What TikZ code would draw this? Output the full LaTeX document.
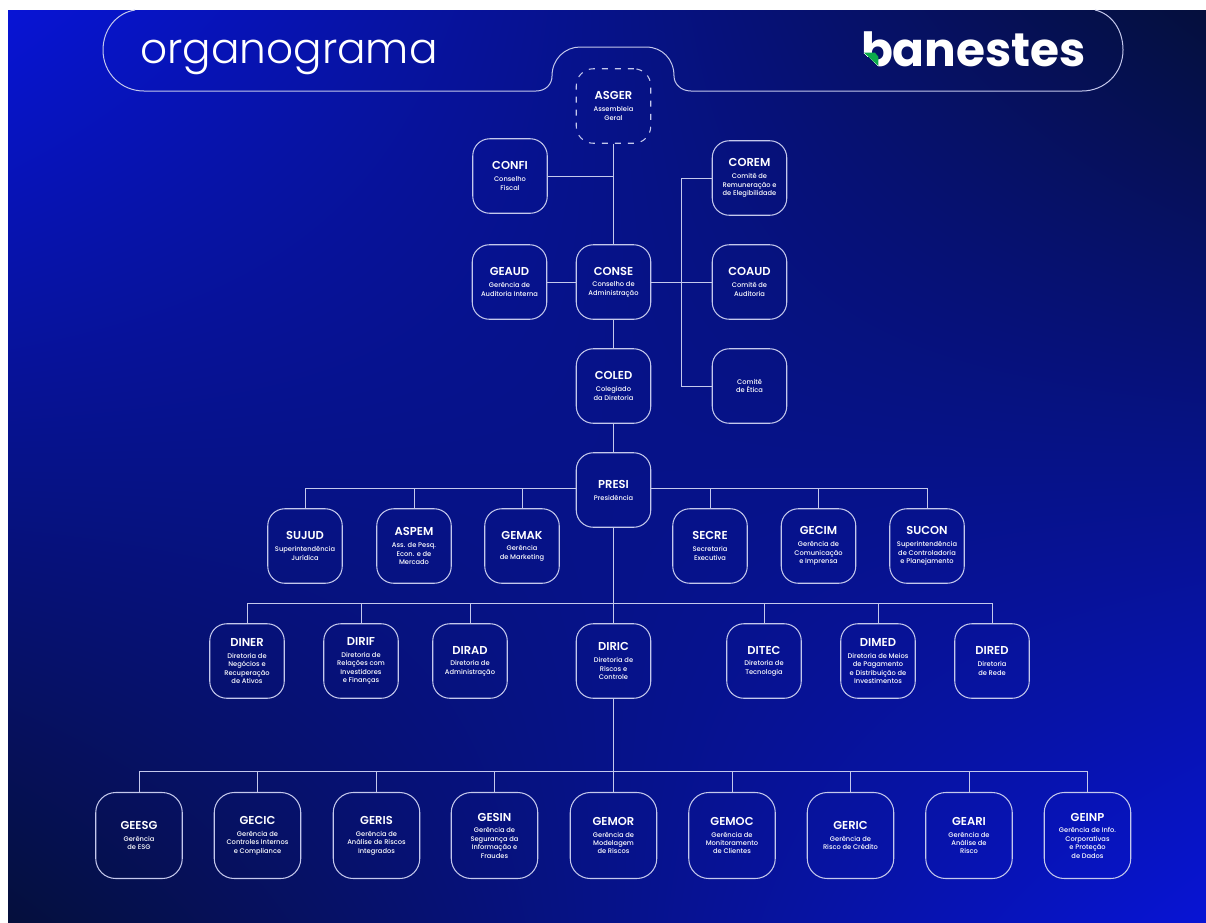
\documentclass[tikz,border=0pt]{standalone}
\usepackage{fontspec}
\setmainfont{Poppins}
\newfontfamily\thinfont{Poppins Light}
\newfontfamily\headfont{Poppins SemiBold}
\newfontfamily\subfont{Poppins Medium}
\definecolor{boxline}{HTML}{C4C8EC}
\definecolor{logogreen}{HTML}{0BAA4B}
\pgfdeclarefunctionalshading{bgmap}{\pgfpointorigin}{\pgfpoint{100bp}{100bp}}{}{
	25 sub 50 div exch 25 sub 50 div exch
	2 copy 1 exch sub mul 3 1 roll exch 1 exch sub mul add
	dup dup 0.6 mul 0.235 add 3 1 roll
	0.02 mul 0.06 add exch 0.01 mul 0.02 add exch 3 -1 roll
}
\newcommand{\orgtext}[2]{{\headfont\fontsize{11.5}{12}\selectfont #1}\\[3.5pt]#2}
\tikzset{
	orgbox/.style={draw=boxline,line width=1.05pt,rounded corners=17pt,minimum width=74.5pt,minimum height=74.5pt,inner sep=0pt,align=center,text=white,font=\subfont\fontsize{6.7}{8.4}\selectfont},
	bigbox/.style={orgbox,rounded corners=20pt,minimum width=86.5pt,minimum height=86pt},
	linkline/.style={draw=boxline,line width=1pt}
}
\begin{document}
\begin{tikzpicture}[x=1pt,y=-1pt]
	\useasboundingbox (0,0) rectangle (1206,922);
	\fill[white] (0,0) rectangle (1206,922);
	\shade[shading=bgmap] (8,10) rectangle (1206,922);
	\draw[linkline] (135,10) .. controls (116,13) and (103,30) .. (103,50) .. controls (103,73) and (121,91) .. (144,91) -- (536,91) .. controls (546,91) and (552,84) .. (552,76) .. controls (552,59) and (565,47) .. (580,47) -- (646,47) .. controls (662,47) and (674,59) .. (674,76) .. controls (674,84) and (681,91) .. (691,91) -- (1082,91) .. controls (1105,91) and (1123,73) .. (1123,50) .. controls (1123,30) and (1112,14) .. (1095,10);
	\node[text=white,inner sep=0pt,anchor=base] (titulo) at (289,63) {\thinfont\fontsize{42.2}{48}\selectfont organograma};
	\begin{scope}
		\clip (855,20) -- (1095,20) -- (1095,78) -- (878,78) -- (878,66) -- (864,53) -- (855,53) -- cycle;
		\node[text=white,inner sep=0pt] (logo) at (973.5,49) {\fontsize{47}{50}\selectfont\bfseries banestes};
	\end{scope}
	\fill[logogreen] (864,52.7) -- (875,52.7) -- (878.3,56.7) -- (878.3,66) -- cycle;

	\node[orgbox,dash pattern=on 6pt off 7pt] (ASGER) at (613.5,106) {\orgtext{ASGER}{Assembleia\\Geral}};
	\node[orgbox] (CONFI) at (510,176) {\orgtext{CONFI}{Conselho\\Fiscal}};
	\node[orgbox] (COREM) at (749.5,178) {\orgtext{COREM}{Comitê de\\Remuneração e\\de Elegibilidade}};
	\node[orgbox] (GEAUD) at (509.5,282) {\orgtext{GEAUD}{Gerência de\\Auditoria Interna}};
	\node[orgbox] (CONSE) at (613.5,282) {\orgtext{CONSE}{Conselho de\\Administração}};
	\node[orgbox] (COAUD) at (749.5,282) {\orgtext{COAUD}{Comitê de\\Auditoria}};
	\node[orgbox] (COLED) at (613.5,386) {\orgtext{COLED}{Colegiado\\da Diretoria}};
	\node[orgbox] (COETI) at (749.5,386) {Comitê\\de Ética};
	\node[orgbox] (PRESI) at (613.5,490) {\orgtext{PRESI}{Presidência}};

	\node[orgbox] (SUJUD) at (305,546) {\orgtext{SUJUD}{Superintendência\\Jurídica}};
	\node[orgbox] (ASPEM) at (414,546) {\orgtext{ASPEM}{Ass. de Pesq.\\Econ. e de\\Mercado}};
	\node[orgbox] (GEMAK) at (522,546) {\orgtext{GEMAK}{Gerência\\de Marketing}};
	\node[orgbox] (SECRE) at (710,546) {\orgtext{SECRE}{Secretaria\\Executiva}};
	\node[orgbox] (GECIM) at (818.5,546) {\orgtext{GECIM}{Gerência de\\Comunicação\\e Imprensa}};
	\node[orgbox] (SUCON) at (927,546) {\orgtext{SUCON}{Superintendência\\de Controladoria\\e Planejamento}};

	\node[orgbox] (DINER) at (247,661) {\orgtext{DINER}{Diretoria de\\Negócios e\\Recuperação\\de Ativos}};
	\node[orgbox] (DIRIF) at (361,661) {\orgtext{DIRIF}{Diretoria de\\Relações com\\Investidores\\e Finanças}};
	\node[orgbox] (DIRAD) at (470,661) {\orgtext{DIRAD}{Diretoria de\\Administração}};
	\node[orgbox] (DIRIC) at (613.5,661) {\orgtext{DIRIC}{Diretoria de\\Riscos e\\Controle}};
	\node[orgbox] (DITEC) at (764,661) {\orgtext{DITEC}{Diretoria de\\Tecnologia}};
	\node[orgbox] (DIMED) at (878,661) {\orgtext{DIMED}{Diretoria de Meios\\de Pagamento\\e Distribuição de\\Investimentos}};
	\node[orgbox] (DIRED) at (992,661) {\orgtext{DIRED}{Diretoria\\de Rede}};

	\node[bigbox] (GEESG) at (139,835.5) {\orgtext{GEESG}{Gerência\\de ESG}};
	\node[bigbox] (GECIC) at (257.5,835.5) {\orgtext{GECIC}{Gerência de\\Controles Internos\\e Compliance}};
	\node[bigbox] (GERIS) at (376.5,835.5) {\orgtext{GERIS}{Gerência de\\Análise de Riscos\\Integrados}};
	\node[bigbox] (GESIN) at (494.5,835.5) {\orgtext{GESIN}{Gerência de\\Segurança da\\Informação e\\Fraudes}};
	\node[bigbox] (GEMOR) at (613.5,835.5) {\orgtext{GEMOR}{Gerência de\\Modelagem\\de Riscos}};
	\node[bigbox] (GEMOC) at (732,835.5) {\orgtext{GEMOC}{Gerência de\\Monitoramento\\de Clientes}};
	\node[bigbox] (GERIC) at (850.5,835.5) {\orgtext{GERIC}{Gerência de\\Risco de Crédito}};
	\node[bigbox] (GEARI) at (969,835.5) {\orgtext{GEARI}{Gerência de\\Análise de\\Risco}};
	\node[bigbox] (GEINP) at (1087.5,835.5) {\orgtext{GEINP}{Gerência de Info.\\Corporativas\\e Proteção\\de Dados}};

	\coordinate (comites) at (681,282);
	\coordinate (presibus) at (613.5,488);
	\coordinate (dirbus) at (613.5,603);
	\coordinate (gerbus) at (613.5,771);

	\draw[linkline] (ASGER.south) -- (CONSE.north);
	\draw[linkline] (CONFI.east) -- (CONFI.east -| ASGER.south);
	\draw[linkline] (GEAUD.east) -- (CONSE.west);
	\draw[linkline] (CONSE.east) -- (COAUD.west);
	\draw[linkline] (COREM.west) -| (comites) |- (COETI.west);
	\draw[linkline] (CONSE.south) -- (COLED.north);
	\draw[linkline] (COLED.south) -- (PRESI.north);
	\draw[linkline] (SUJUD.north) |- (PRESI.west |- presibus);
	\draw[linkline] (SUCON.north) |- (PRESI.east |- presibus);
	\foreach \n in {ASPEM,GEMAK,SECRE,GECIM}
		\draw[linkline] (\n.north) -- (\n.north |- presibus);
	\draw[linkline] (PRESI.south) -- (DIRIC.north);
	\draw[linkline] (DINER.north) |- (dirbus) -| (DIRED.north);
	\foreach \n in {DIRIF,DIRAD,DITEC,DIMED}
		\draw[linkline] (\n.north) -- (\n.north |- dirbus);
	\draw[linkline] (DIRIC.south) -- (GEMOR.north);
	\draw[linkline] (GEESG.north) |- (gerbus) -| (GEINP.north);
	\foreach \n in {GECIC,GERIS,GESIN,GEMOC,GERIC,GEARI}
		\draw[linkline] (\n.north) -- (\n.north |- gerbus);
\end{tikzpicture}
\end{document}
